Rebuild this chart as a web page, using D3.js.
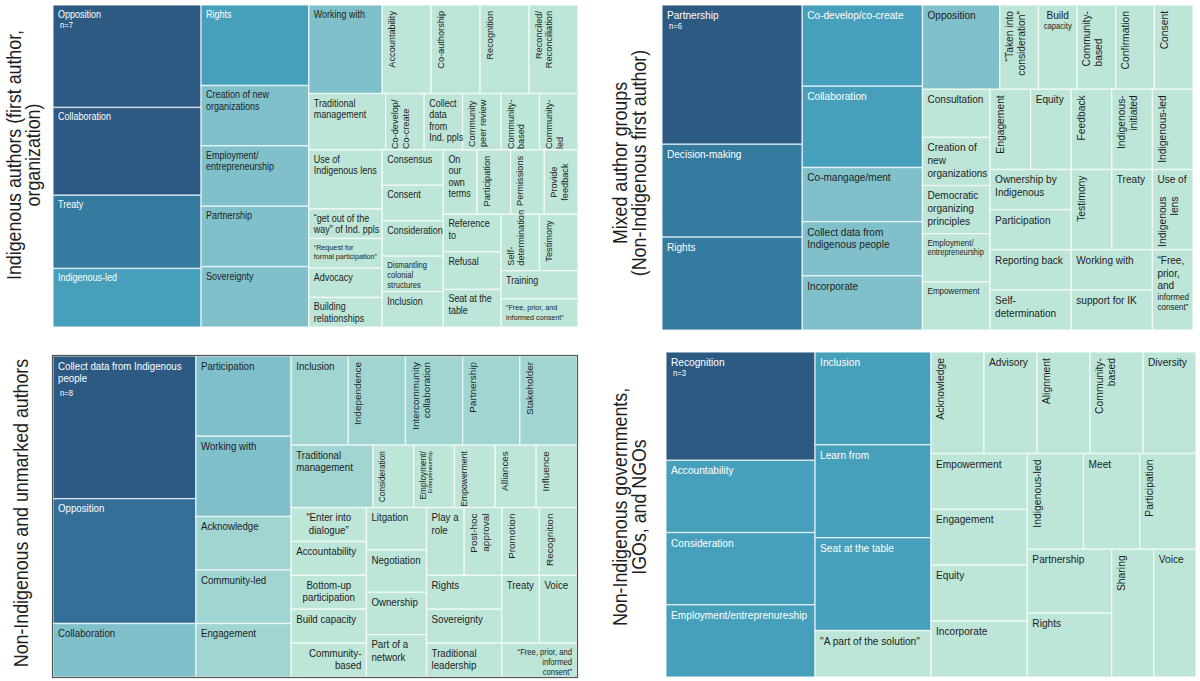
<!DOCTYPE html>
<html>
<head>
<meta charset="utf-8">
<script src="https://cdn.jsdelivr.net/npm/d3@7"></script>
<style>
  html, body { margin: 0; padding: 0; background: #fff; }
  svg { display: block; font-family: "Liberation Sans", Arial, sans-serif; }
</style>
</head>
<body>
<svg id="chart" width="1200" height="681"></svg>
<script>
// Each panel: nested groups of [label, count]. Groups alternate columns / rows.
const indigenousAuthors = [
  [["Opposition", 7], ["Collaboration", 6], ["Treaty", 5], ["Indigenous-led", 4]],
  [["Rights", 4], ["Creation of new organizations", 3], ["Employment/entrepreneurship", 3], ["Partnership", 3], ["Sovereignty", 3]],
  [
    [["Working with", 3], ["Accountability", 2], ["Co-authorship", 2], ["Recognition", 2], ["Reconciled/Reconciliation", 2]],
    [["Traditional management", 2], ["Co-develop/Co-create", 1], ["Collect data from Ind. ppls", 1], ["Community peer review", 1], ["Community-based", 1], ["Community-led", 1]],
    [
      [["Use of Indigenous lens", 2], ["“get out of the way” of Ind. ppls", 1], ["“Request for formal participation”", 1], ["Advocacy", 1], ["Building relationships", 1]],
      [["Consensus", 1], ["Consent", 1], ["Consideration", 1], ["Dismantling colonial structures", 1], ["Inclusion", 1]],
      [
        [["On our own terms", 1], ["Participation", 1], ["Permissions", 1], ["Provide feedback", 1]],
        [
          [["Reference to", 1], ["Refusal", 1], ["Seat at the table", 1]],
          [[["Self-determination", 1], ["Testimony", 1]], ["Training", 1], ["“Free, prior, and informed consent”", 1]]
        ]
      ]
    ]
  ]
];

const mixedAuthors = [
  [["Partnership", 6], ["Decision-making", 4], ["Rights", 4]],
  [["Co-develop/co-create", 3], ["Collaboration", 3], ["Co-mangage/ment", 2], ["Collect data from Indigenous people", 2], ["Incorporate", 2]],
  [
    [["Opposition", 2], ["“Taken into consideration”", 1], ["Build capacity", 1], ["Community-based", 1], ["Confirmation", 1], ["Consent", 1]],
    [
      [["Consultation", 1], ["Creation of new organizations", 1], ["Democratic organizing principles", 1], ["Employment/entrepreneurship", 1], ["Empowerment", 1]],
      [
        [["Engagement", 1], ["Equity", 1], ["Feedback", 1], ["Indigenous-initiated", 1], ["Indigenous-led", 1]],
        [[["Ownership by Indigenous", 1], ["Participation", 1]], ["Testimony", 1], ["Treaty", 1], ["Use of Indigenous lens", 1]],
        [[["Reporting back", 1], ["Self-determination", 1]], [["Working with", 1], ["support for IK", 1]], ["“Free, prior, and informed consent”", 1]]
      ]
    ]
  ]
];

const nonIndigenousAuthors = [
  [["Collect data from Indigenous people", 8], ["Opposition", 7], ["Collaboration", 3]],
  [["Participation", 3], ["Working with", 3], ["Acknowledge", 2], ["Community-led", 2], ["Engagement", 2]],
  [
    [["Inclusion", 2], ["Independence", 2], ["Intercommunity collaboration", 2], ["Partnership", 2], ["Stakeholder", 2]],
    [["Traditional management", 2], ["Consideration", 1], ["Employment/Entrepreneurship", 1], ["Empowerment", 1], ["Alliances", 1], ["Influence", 1]],
    [
      [["“Enter into dialogue”", 1], ["Accountability", 1], ["Bottom-up participation", 1], ["Build capacity", 1], ["Community-based", 1]],
      [["Litgation", 1], ["Negotiation", 1], ["Ownership", 1], ["Part of a network", 1]],
      [
        [["Play a role", 1], ["Post-hoc approval", 1], ["Promotion", 1], ["Recognition", 1]],
        [
          [["Rights", 1], ["Sovereignty", 1], ["Traditional leadership", 1]],
          [[["Treaty", 1], ["Voice", 1]], ["“Free, prior, and informed consent”", 1]]
        ]
      ]
    ]
  ]
];

const governmentsNGOs = [
  [["Recognition", 3], ["Accountability", 2], ["Consideration", 2], ["Employment/entreprenureship", 2]],
  [["Inclusion", 2], ["Learn from", 2], ["Seat at the table", 2], ["\"A part of the solution\"", 1]],
  [
    [["Acknowledge", 1], ["Advisory", 1], ["Alignment", 1], ["Community-based", 1], ["Diversity", 1]],
    [
      [["Empowerment", 1], ["Engagement", 1], ["Equity", 1], ["Incorporate", 1]],
      [
        [["Indigenous-led", 1], ["Meet", 1], ["Participation", 1]],
        [[["Partnership", 1], ["Rights", 1]], ["Sharing", 1], ["Voice", 1]]
      ]
    ]
  ]
];

const panelData = [indigenousAuthors, mixedAuthors, nonIndigenousAuthors, governmentsNGOs];
const panelN = ["n=7", "n=6", "n=8", "n=3"];
const panelTitles = [
  ["Indigenous authors (first author,", "organization)"],
  ["Mixed author groups", "(Non-Indigenous first author)"],
  ["Non-Indigenous and unmarked authors"],
  ["Non-Indigenous governments,", "IGOs, and NGOs"]
];

// ---- styling / layout ----
const pal = {
  dark: "#2c5a83", deep: "#357a9f", deep3: "#336f98", mid: "#47a0bb",
  light: "#80c0cb", lighter: "#a0d5d2", pale: "#bde5d8"
};
const colorScales = [
  d3.scaleOrdinal([7, 6, 5, 4, 3, 2, 1], [pal.dark, pal.dark, pal.deep, pal.mid, pal.light, pal.pale, pal.pale]),
  d3.scaleOrdinal([6, 4, 3, 2, 1], [pal.dark, pal.deep, pal.mid, pal.light, pal.pale]),
  d3.scaleOrdinal([8, 7, 3, 2, 1], [pal.dark, pal.deep3, pal.light, pal.lighter, pal.pale]),
  d3.scaleOrdinal([3, 2, 1], [pal.dark, pal.mid, pal.pale])
];
const whiteText = new Set([pal.dark, pal.deep, pal.deep3, pal.mid]);

const panelBoxes = [
  { x: 53, y: 5, w: 525, h: 322 },
  { x: 662, y: 5, w: 531, h: 325 },
  { x: 53, y: 356, w: 524, h: 321 },
  { x: 666, y: 352, w: 530, h: 325 }
];
const titlePos = [{ x: 21, y: 155 }, { x: 627, y: 163 }, { x: 28, y: 513 }, { x: 627, y: 507 }];
const baseSize = [10, 11.2, 10.8, 11.3];
const SX = 0.9; // horizontal squeeze of the text

const labelFmt = {
  "0|Creation of new organizations": { lines: ["Creation of new", "organizations"] },
  "0|Employment/entrepreneurship": { lines: ["Employment/", "entrepreneurship"] },
  "0|Accountability": { rot: true },
  "0|Co-authorship": { rot: true },
  "0|Recognition": { rot: true },
  "0|Reconciled/Reconciliation": { rot: true, lines: ["Reconciled/", "Reconciliation"] },
  "0|Traditional management": { lines: ["Traditional", "management"] },
  "0|Co-develop/Co-create": { rot: true, align: "topstart", lines: ["Co-develop/", "Co-create"] },
  "0|Collect data from Ind. ppls": { lines: ["Collect", "data", "from", "Ind. ppls"] },
  "0|Community peer review": { rot: true, align: "topstart", lines: ["Community", "peer review"] },
  "0|Community-based": { rot: true, align: "topstart", lines: ["Community-", "based"] },
  "0|Community-led": { rot: true, align: "topstart", lines: ["Community-", "led"] },
  "0|Use of Indigenous lens": { lines: ["Use of", "Indigenous lens"] },
  "0|“get out of the way” of Ind. ppls": { lines: ["“get out of the", "way” of Ind. ppls"] },
  "0|“Request for formal participation”": { size: 8, lines: ["“Request for", "formal participation”"] },
  "0|Building relationships": { lines: ["Building", "relationships"] },
  "0|Dismantling colonial structures": { size: 8.5, lines: ["Dismantling", "colonial", "structures"] },
  "0|On our own terms": { lines: ["On", "our", "own", "terms"] },
  "0|Participation": { rot: true },
  "0|Permissions": { rot: true },
  "0|Provide feedback": { rot: true, align: "center", lines: ["Provide", "feedback"] },
  "0|Reference to": { lines: ["Reference", "to"] },
  "0|Seat at the table": { lines: ["Seat at the", "table"] },
  "0|Self-determination": { rot: true, align: "bottom", lines: ["Self-", "determination"] },
  "0|Testimony": { rot: true },
  "0|“Free, prior, and informed consent”": { size: 8, lines: ["“Free, prior, and", "informed consent”"] },

  "1|Collect data from Indigenous people": { lines: ["Collect data from", "Indigenous people"] },
  "1|“Taken into consideration”": { rot: true, lines: ["“Taken into", "consideration”"] },
  "1|Build capacity": { align: "middle", lines: ["Build", ["capacity", 8.5]] },
  "1|Community-based": { rot: true, align: "topstart", lines: ["Community-", "based"] },
  "1|Confirmation": { rot: true },
  "1|Consent": { rot: true },
  "1|Creation of new organizations": { lines: ["Creation of", "new", "organizations"] },
  "1|Democratic organizing principles": { lines: ["Democratic", "organizing", "principles"] },
  "1|Employment/entrepreneurship": { lines: [["Employment/", 8.8], ["entrepreneurship", 8.3]] },
  "1|Empowerment": { size: 9 },
  "1|Engagement": { rot: true },
  "1|Feedback": { rot: true },
  "1|Indigenous-initiated": { rot: true, lines: ["Indigenous-", "initiated"] },
  "1|Indigenous-led": { rot: true },
  "1|Ownership by Indigenous": { lines: ["Ownership by", "Indigenous"] },
  "1|Testimony": { rot: true },
  "1|Use of Indigenous lens": { lines: ["Use of"], extra: { rot: true, top: 21, lines: ["Indigenous", "lens"] } },
  "1|Self-determination": { lines: ["Self-", "determination"] },
  "1|“Free, prior, and informed consent”": { lines: ["“Free,", "prior,", "and", ["informed", 9], ["consent”", 9]] },

  "2|Collect data from Indigenous people": { lines: ["Collect data from Indigenous", "people"] },
  "2|Independence": { rot: true },
  "2|Intercommunity collaboration": { rot: true, lines: ["Intercommunity", "collaboration"] },
  "2|Partnership": { rot: true },
  "2|Stakeholder": { rot: true },
  "2|Traditional management": { lines: ["Traditional", "management"] },
  "2|Consideration": { rot: true, size: 9 },
  "2|Employment/Entrepreneurship": { rot: true, lines: [["Employment/", 9], ["Entrepreneurship", 6]] },
  "2|Empowerment": { rot: true, size: 9.4 },
  "2|Alliances": { rot: true },
  "2|Influence": { rot: true },
  "2|“Enter into dialogue”": { align: "middle", lines: ["“Enter into", "dialogue”"] },
  "2|Bottom-up participation": { align: "middle", lines: ["Bottom-up", "participation"] },
  "2|Community-based": { align: "end", lines: ["Community-", "based"] },
  "2|Part of a network": { lines: ["Part of a", "network"] },
  "2|Play a role": { lines: ["Play a", "role"] },
  "2|Post-hoc approval": { rot: true, lines: ["Post-hoc", "approval"] },
  "2|Promotion": { rot: true },
  "2|Recognition": { rot: true },
  "2|Traditional leadership": { lines: ["Traditional", "leadership"] },
  "2|“Free, prior, and informed consent”": { align: "end", size: 8.5, lines: ["“Free, prior, and", "informed", "consent”"] },

  "3|Acknowledge": { rot: true },
  "3|Alignment": { rot: true },
  "3|Community-based": { rot: true, lines: ["Community-", "based"] },
  "3|Indigenous-led": { rot: true },
  "3|Participation": { rot: true },
  "3|Sharing": { rot: true }
};

function toNode(d) {
  if (typeof d[0] === "string") return { name: d[0], value: d[1] };
  return { children: d.map(toNode) };
}

const svg = d3.select("#chart");

function drawHoriz(cell, lines, spec, w, fill) {
  const g = cell.append("g").attr("transform", `scale(${SX},1)`);
  const align = spec.align || "start";
  const ax = align === "middle" ? w / 2 : align === "end" ? w - 5 : 5;
  let y = (spec.top || 0) + 5.5 + 0.75 * lines[0].s;
  lines.forEach((ln, j) => {
    if (j > 0) y += ln.s * 1.15;
    g.append("text")
      .attr("x", ax / SX).attr("y", y)
      .attr("text-anchor", align)
      .attr("font-size", ln.s)
      .attr("fill", fill)
      .text(ln.t);
  });
  return y;
}

function drawRot(cell, lines, spec, w, h, fill) {
  const top = spec.top || 0;
  const align = spec.align || "top";
  let bx = 0;
  const items = lines.map((ln, j) => {
    const rs = ln.s * 0.92;
    bx = j === 0 ? 6 + 0.72 * rs : bx + rs * 1.15;
    const t = cell.append("text").attr("font-size", rs).attr("fill", fill).text(ln.t);
    return { t, bx };
  });
  const maxLen = d3.max(items, d => d.t.node().getComputedTextLength());
  let anchor = "end", y = top + 6;
  if (align === "topstart") { anchor = "start"; y = top + 6 + maxLen; }
  if (align === "bottom") { anchor = "start"; y = h - 5; }
  if (align === "center") { anchor = "middle"; y = h / 2; }
  items.forEach(d => d.t.attr("text-anchor", anchor).attr("transform", `translate(${d.bx},${y}) rotate(-90)`));
}

function parseLines(arr, size) {
  return arr.map(l => Array.isArray(l) ? { t: l[0], s: l[1] } : { t: l, s: size });
}

panelData.forEach((data, pi) => {
  const box = panelBoxes[pi];
  const color = colorScales[pi];
  const root = d3.hierarchy(toNode(data)).sum(d => d.children ? 0 : d.value);

  d3.treemap()
    .tile(d3.treemapSliceDice)
    .size([box.w, box.h])
    .round(false)(root);

  const g = svg.append("g").attr("transform", `translate(${box.x},${box.y})`);
  const leaves = root.leaves();

  g.selectAll("rect")
    .data(leaves)
    .join("rect")
    .attr("x", d => d.x0)
    .attr("y", d => d.y0)
    .attr("width", d => d.x1 - d.x0)
    .attr("height", d => d.y1 - d.y0)
    .attr("fill", d => color(d.data.value))
    .attr("stroke", "rgba(255,255,255,0.65)")
    .attr("stroke-width", 1.4);

  leaves.forEach((leaf, li) => {
    const w = leaf.x1 - leaf.x0, h = leaf.y1 - leaf.y0;
    const spec = labelFmt[pi + "|" + leaf.data.name] || {};
    const size = spec.size || baseSize[pi];
    const lines = parseLines(spec.lines || [leaf.data.name], size);
    const fill = whiteText.has(color(leaf.data.value)) ? "#ffffff" : "#1e1e1e";
    const cell = g.append("g").attr("transform", `translate(${leaf.x0},${leaf.y0})`);

    let last = 0;
    if (spec.rot) drawRot(cell, lines, spec, w, h, fill);
    else last = drawHoriz(cell, lines, spec, w, fill);

    if (spec.extra) {
      const ex = spec.extra;
      const exLines = parseLines(ex.lines, ex.size || baseSize[pi]);
      if (ex.rot) drawRot(cell, exLines, ex, w, h, fill);
      else drawHoriz(cell, exLines, ex, w, fill);
    }

    if (li === 0) {
      cell.append("g").attr("transform", `scale(${SX},1)`)
        .append("text")
        .attr("x", 7 / SX)
        .attr("y", last + (pi === 2 ? 14 : 10))
        .attr("font-size", 8.5)
        .attr("fill", fill)
        .text(panelN[pi]);
    }
  });

  if (pi === 2) {
    g.append("rect")
      .attr("x", -0.5).attr("y", -0.5)
      .attr("width", box.w + 1).attr("height", box.h + 1)
      .attr("fill", "none")
      .attr("stroke", "#555")
      .attr("stroke-width", 1.2);
  }

  // panel title, rotated
  const tp = titlePos[pi];
  panelTitles[pi].forEach((line, j) => {
    svg.append("text")
      .attr("transform", `translate(${tp.x + j * 19},${tp.y}) rotate(-90) scale(1,1.12)`)
      .attr("text-anchor", "middle")
      .attr("font-size", 17.8)
      .attr("fill", "#1e1e1e")
      .text(line);
  });
});
</script>
</body>
</html>
